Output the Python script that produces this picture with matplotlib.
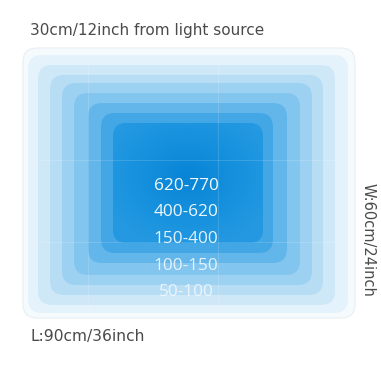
import numpy as np
import matplotlib.pyplot as plt
from matplotlib.patches import FancyBboxPatch
from matplotlib.colors import LinearSegmentedColormap

# bandas de irradiancia (de afuera hacia adentro)
ranges = ['620-770', '400-620', '150-400', '100-150', '50-100']
band_colors = ['#f5fafd', '#e4f2fb', '#cfe8f8', '#b7ddf5', '#9dd1f2',
               '#82c5ee', '#63b6ea', '#43a7e6', '#2499e1']
# cajas en pixeles: izquierda, arriba, derecha, abajo
boxes = [(23, 48, 355, 318), (28, 55, 348, 313), (38, 65, 335, 305),
         (50, 75, 323, 295), (62, 83, 312, 285), (74, 93, 300, 275),
         (88, 103, 287, 263), (101, 113, 273, 253), (113, 123, 263, 243)]
label_alpha = [0.95, 0.92, 0.88, 0.8, 0.7]

fig = plt.figure(figsize=(3.81, 3.81), dpi=100)
ax = fig.add_axes([0, 0, 1, 1])
ax.set_xlim(0, 381)
ax.set_ylim(381, 0)
ax.axis('off')

for i, (b, c) in enumerate(zip(boxes, band_colors)):
    l, t, r, bt = b
    p = FancyBboxPatch((l, t), r - l, bt - t,
                       boxstyle='round,pad=0,rounding_size=14',
                       fc=c, ec='#e8eef3' if i == 0 else 'none', lw=0.8)
    ax.add_patch(p)

# degradado del centro
l, t, r, bt = boxes[-1]
yy, xx = np.mgrid[0:1:200j, 0:1:200j]
d = np.sqrt(((xx - 0.5) / 0.6) ** 2 + ((yy - 0.45) / 0.6) ** 2)
clip = FancyBboxPatch((l, t), r - l, bt - t,
                      boxstyle='round,pad=0,rounding_size=14',
                      fc='none', ec='none')
ax.add_patch(clip)
cmap = LinearSegmentedColormap.from_list('c', ['#0884d6', '#1590dd', '#2499e1'])
im = ax.imshow(np.clip(d, 0, 1), cmap=cmap, extent=(l, r, bt, t), zorder=2)
im.set_clip_path(clip)

# lineas tenues
for x in [88, 218]:
    ax.plot([x, x], [48, 318], color='white', lw=0.5, alpha=0.2, zorder=3)
for y in [160, 242]:
    ax.plot([23, 355], [y, y], color='white', lw=0.5, alpha=0.2, zorder=3)

for k, (txt, a) in enumerate(zip(ranges, label_alpha)):
    ax.text(186, 186 + k * 26.5, txt, color='white', alpha=a, fontsize=12.4,
            family='Open Sans', ha='center', va='center', zorder=4)

ax.text(30, 31, '30cm/12inch from light source', color='#4a4a4a', fontsize=11,
        ha='left', va='center')
ax.text(30, 336, 'L:90cm/36inch', color='#4a4a4a', fontsize=11.2,
        ha='left', va='center')
ax.text(368, 240, 'W:60cm/24inch', color='#4a4a4a', fontsize=10.5,
        rotation=-90, ha='center', va='center')

plt.savefig('out.png', dpi=100)
